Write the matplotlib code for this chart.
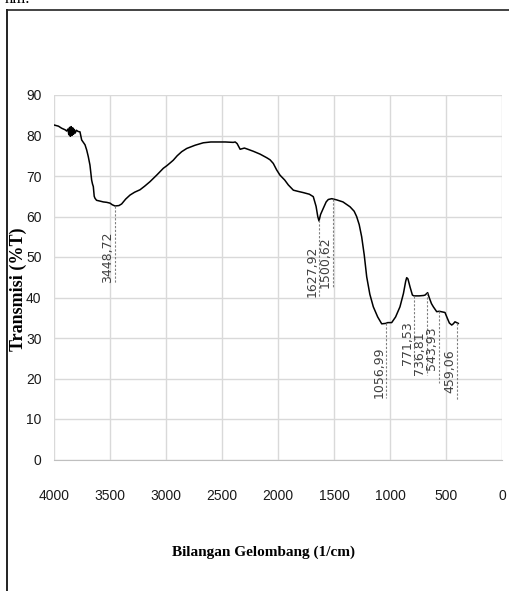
import numpy as np
import matplotlib
matplotlib.use("Agg")
import matplotlib.pyplot as plt
from matplotlib.lines import Line2D

# ---- data ----
wavenumber = [4000, 3960, 3932, 3900, 3887, 3875, 3868, 3861, 3854, 3847, 3840, 3833,
              3826, 3819, 3811, 3800, 3785, 3768, 3753, 3738, 3723, 3708, 3694, 3679,
              3672, 3664, 3656, 3649, 3641, 3634, 3620, 3589, 3560, 3530, 3500, 3480,
              3455, 3420, 3396, 3360, 3321, 3280, 3232, 3190, 3143, 3080, 3024, 2990,
              2960, 2935, 2900, 2860, 2815, 2740, 2667, 2600, 2470, 2400, 2382, 2365,
              2338, 2300, 2279, 2220, 2160, 2100, 2071, 2042, 2012, 1982, 1940, 1908,
              1863, 1820, 1774, 1720, 1685, 1660, 1645, 1634, 1620, 1596, 1570, 1551,
              1520, 1476, 1420, 1357, 1320, 1298, 1275, 1253, 1230, 1208, 1180, 1149,
              1110, 1074, 1040, 1020, 985, 950, 911, 880, 860, 851, 840, 820, 800, 786,
              740, 700, 687, 664, 650, 630, 613, 583, 560, 509, 490, 470, 449, 435, 420,
              405, 390]
transmisi = [82.6, 82.3, 81.8, 81.4, 81.1, 81.6, 80.2, 82.0, 79.8, 82.2, 80.0, 81.9,
             80.3, 81.5, 80.6, 81.3, 81.0, 80.9, 78.9, 78.3, 77.7, 76.4, 74.8, 72.7,
             71.0, 69.0, 68.0, 67.4, 65.0, 64.5, 64.0, 63.8, 63.6, 63.5, 63.3, 62.9,
             62.6, 62.7, 63.1, 64.3, 65.3, 66.0, 66.6, 67.5, 68.6, 70.3, 71.9, 72.6,
             73.3, 73.9, 75.0, 76.0, 76.8, 77.6, 78.2, 78.4, 78.4, 78.3, 78.4, 78.0,
             76.6, 76.9, 76.7, 76.1, 75.4, 74.5, 74.0, 73.1, 71.5, 70.2, 69.0, 67.8,
             66.5, 66.2, 65.9, 65.5, 64.9, 62.5, 60.0, 58.9, 60.5, 62.0, 63.6, 64.2,
             64.4, 64.1, 63.6, 62.4, 61.3, 60.0, 58.0, 55.0, 50.5, 45.1, 40.8, 37.7,
             35.2, 33.5, 33.6, 33.8, 33.8, 35.2, 37.7, 41.0, 44.0, 44.9, 44.6, 42.5,
             40.6, 40.4, 40.4, 40.5, 40.6, 41.2, 40.0, 38.5, 37.7, 36.5, 36.6, 36.3,
             35.0, 33.7, 33.2, 33.5, 34.0, 33.8, 33.6]

peak_labels = ["3448,72", "1627,92", "1500,62", "1056,99", "771,53", "736,81", "543,93", "459,06"]
peak_pos = [3455, 1631, 1513, 1036, 783, 672, 562, 404]
label_bottom = [43.6, 40.2, 42.3, 15.2, 23.3, 20.9, 22.1, 16.4]
dash_bottom = [43.6, 40.2, 42.3, 15.2, 23.3, 20.9, 18.9, 14.7]

x_ticks = [4000, 3500, 3000, 2500, 2000, 1500, 1000, 500, 0]
y_ticks = [0, 10, 20, 30, 40, 50, 60, 70, 80, 90]

tick_font = ["Liberation Sans Narrow", "Liberation Sans", "DejaVu Sans"]
serif_font = ["Liberation Serif", "DejaVu Serif"]

fig = plt.figure(figsize=(5.10, 5.91), dpi=100)
ax = fig.add_axes([54 / 510, 1 - 459.5 / 591, 448 / 510, 364.5 / 591])

ax.set_xlim(4000, 0)
ax.set_ylim(0, 90)
ax.set_xticks(x_ticks)
ax.set_yticks(y_ticks)
ax.grid(True, color="#d9d9d9", lw=1.0)
ax.set_axisbelow(True)
for s in ["top", "right", "left"]:
    ax.spines[s].set_visible(False)
ax.spines["bottom"].set_color("#bfbfbf")
ax.tick_params(length=0, labelsize=10, labelcolor="#1a1a1a")
ax.tick_params(axis="x", pad=21)
ax.tick_params(axis="y", pad=9)
for lab in ax.get_xticklabels() + ax.get_yticklabels():
    lab.set_family(tick_font)

ax.plot(wavenumber, transmisi, color="black", lw=1.1)

wn_rev = wavenumber[::-1]
tr_rev = transmisi[::-1]
for lab, xp, yb, db in zip(peak_labels, peak_pos, label_bottom, dash_bottom):
    ytop = float(np.interp(xp, wn_rev, tr_rev))
    ax.plot([xp, xp], [ytop, db], color="#808080", lw=0.8, ls=(0, (2, 1.5)))
    ax.annotate(lab, (xp, yb), xytext=(-0.5, 0), textcoords="offset points",
                rotation=90, ha="right", va="bottom", fontsize=9,
                color="#404040", family=["DejaVu Sans"])

fig.text(18 / 510, 1 - 289 / 591, "Transmisi (%T)", rotation=90, ha="center",
         va="center", fontsize=13, fontweight="bold", family=serif_font)
fig.text(263.5 / 510, 1 - 552 / 591, "Bilangan Gelombang (1/cm)", ha="center",
         va="center", fontsize=11, fontweight="bold", family=serif_font)

# page frame
fig.add_artist(Line2D([7.3 / 510, 7.3 / 510], [0, 1 - 10 / 591], color="#222222", lw=1.4))
fig.add_artist(Line2D([7.3 / 510, 1], [1 - 10 / 591, 1 - 10 / 591], color="#222222", lw=1.2))
fig.text(5 / 510, 1 - 3 / 591, "nm.", ha="left", va="baseline", fontsize=12,
         family=serif_font, color="black")

fig.savefig("out.png", dpi=100)
